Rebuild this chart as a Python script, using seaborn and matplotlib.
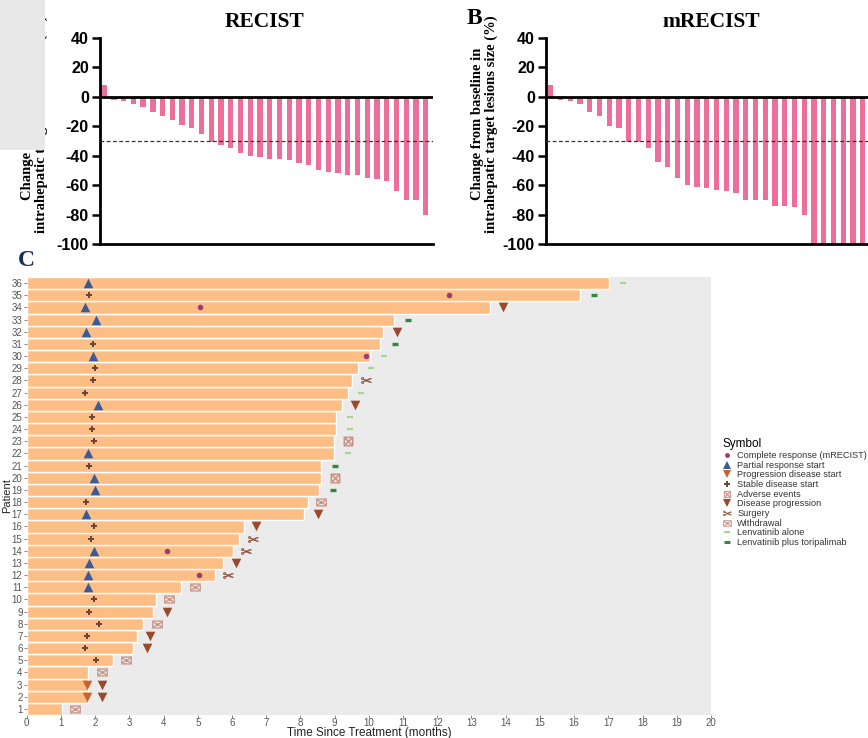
import numpy as np
import pandas as pd
import matplotlib
matplotlib.use("Agg")
import matplotlib.pyplot as plt
from matplotlib.lines import Line2D
from matplotlib.patches import Rectangle
import seaborn as sns

SERIF = ["Liberation Serif", "DejaVu Serif"]
SANS = ["Liberation Sans", "DejaVu Sans"]
plt.rcParams["font.family"] = SANS

# ---------------- data ----------------
recist = [8, -2, -3, -5, -7, -10, -13, -16, -19, -21, -25, -31, -33, -35, -38, -40, -41,
          -42, -42, -43, -45, -46, -50, -51, -52, -53, -53, -55, -56, -57, -64, -70, -70, -80]
mrecist = [8, -2, -3, -5, -10, -13, -20, -21, -31, -31, -35, -44, -48, -55, -60, -61, -62,
           -63, -64, -65, -70, -70, -70, -74, -74, -75, -80, -100, -100, -100, -100, -100, -100, -100]
y_ticks_ab = [40, 20, 0, -20, -40, -60, -80, -100]

patients = list(range(1, 37))
duration = [1.02, 1.80, 1.80, 1.80, 2.52, 3.10, 3.22, 3.41, 3.69, 3.77, 4.51, 5.51, 5.73, 6.02,
            6.21, 6.34, 8.11, 8.21, 8.53, 8.60, 8.60, 8.99, 8.99, 9.05, 9.05, 9.22, 9.38, 9.51,
            9.68, 10.04, 10.34, 10.41, 10.73, 13.53, 16.16, 17.02]

cr_pat = [12, 14, 30, 34, 35]
cr_t = [5.03, 4.10, 9.92, 5.07, 12.33]
pr_pat = [11, 12, 13, 14, 17, 19, 20, 22, 26, 30, 32, 33, 34, 36]
pr_t = [1.80, 1.80, 1.83, 1.98, 1.73, 2.01, 1.98, 1.80, 2.07, 1.94, 1.73, 2.04, 1.71, 1.80]
pds_pat = [2, 3]
pds_t = [1.77, 1.77]
sd_pat = [5, 6, 7, 8, 9, 10, 15, 16, 18, 21, 23, 24, 25, 27, 28, 29, 31, 35]
sd_t = [2.03, 1.71, 1.77, 2.12, 1.81, 1.98, 1.88, 1.98, 1.73, 1.83, 1.98, 1.91, 1.91, 1.71,
        1.93, 2.01, 1.94, 1.81]
ae_pat = [20, 23]
ae_t = [9.01, 9.40]
dp_pat = [2, 3, 6, 7, 9, 13, 16, 17, 26, 32, 34]
dp_t = [2.21, 2.21, 3.51, 3.61, 4.10, 6.12, 6.71, 8.50, 9.60, 10.82, 13.91]
surg_pat = [12, 14, 15, 28]
surg_t = [5.89, 6.41, 6.60, 9.92]
wd_pat = [1, 4, 5, 8, 10, 11, 18]
wd_t = [1.41, 2.21, 2.90, 3.81, 4.17, 4.92, 8.61]
la_pat = [22, 24, 25, 27, 29, 30, 36]
la_t = [9.40, 9.44, 9.44, 9.77, 10.07, 10.45, 17.44]
lt_pat = [19, 21, 31, 33, 35]
lt_t = [8.94, 9.01, 10.76, 11.13, 16.57]

legend_labels = ["Complete response (mRECIST)", "Partial response start",
                 "Progression disease start", "Stable disease start", "Adverse events",
                 "Disease progression", "Surgery", "Withdrawal", "Lenvatinib alone",
                 "Lenvatinib plus toripalimab"]

# ---------------- figure ----------------
W, H = 868, 738
fig = plt.figure(figsize=(W / 100, H / 100), dpi=100)
fig.patch.set_facecolor("white")

PINK = "#EC6E99"


def fx(px):
    return px / W


def fy(py):
    return 1 - py / H


def waterfall(ax, vals, xlo, xhi):
    df = pd.DataFrame({"idx": list(range(len(vals))), "val": vals})
    sns.barplot(data=df, x="idx", y="val", color=PINK, saturation=1, width=0.55,
                errorbar=None, ax=ax, linewidth=0)
    ax.set_xlim(xlo, xhi)
    ax.set_ylim(-100, 40)
    ax.axhline(0, color="black", lw=2, zorder=5)
    ax.axhline(-30, color="#333333", lw=0.9, ls=(0, (3, 2)), zorder=4)
    for s in ["top", "right"]:
        ax.spines[s].set_visible(False)
    for s in ["left", "bottom"]:
        ax.spines[s].set_linewidth(2)
        ax.spines[s].set_color("black")
    ax.set_xticks([])
    ax.set_yticks(y_ticks_ab)
    ax.set_yticklabels([str(v) for v in y_ticks_ab], fontfamily=SANS, fontweight="bold",
                       fontsize=11.5)
    ax.tick_params(axis="y", length=6, width=1.8, color="black", pad=2)
    ax.set_xlabel("")
    ax.set_ylabel("")
    ax.set_facecolor("white")


axA = fig.add_axes([fx(100), fy(244), fx(333), 206 / H])
waterfall(axA, recist, -0.42, 33.75)
axB = fig.add_axes([fx(546), fy(244), fx(333), 206 / H])
waterfall(axB, mrecist, -0.48, 33.67)

# y labels of A / B
for x1, x2 in [(27, 41), (477, 491)]:
    fig.text(fx(x1), fy(124), "Change from baseline in", rotation=90, ha="center", va="center",
             fontfamily=SERIF, fontweight="bold", fontsize=10.5)
    fig.text(fx(x2), fy(124), "intrahepatic target lesions size (%)", rotation=90, ha="center",
             va="center", fontfamily=SERIF, fontweight="bold", fontsize=10.5)

fig.text(fx(265), fy(22), "RECIST", ha="center", va="center", fontfamily=SERIF,
         fontweight="bold", fontsize=15.5)
fig.text(fx(711), fy(22), "mRECIST", ha="center", va="center", fontfamily=SERIF,
         fontweight="bold", fontsize=15.5)
fig.text(fx(474), fy(19), "B", ha="center", va="center", fontfamily=SERIF,
         fontweight="bold", fontsize=17)

# grey box covering top left
fig.patches.append(Rectangle((0, fy(150)), fx(45), 150 / H, transform=fig.transFigure,
                             facecolor="#E8E8E8", edgecolor="none", zorder=10))

# ---------------- panel C ----------------
axC = fig.add_axes([fx(26.7), fy(715), fx(711 - 26.7), (715 - 277) / H])
axC.set_facecolor("#EBEBEB")
dfC = pd.DataFrame({"patient": patients, "duration": duration})
sns.barplot(data=dfC, x="duration", y="patient", orient="h", native_scale=True,
            color="#FDBE86", saturation=1, width=1.0, errorbar=None, ax=axC,
            edgecolor="white", linewidth=1.0)
axC.set_xlim(0, 20)
axC.set_ylim(0.5, 36.5)

c_cr = "#A33A78"
c_pr = "#3B5A9A"
c_pds = "#C4652B"
c_sd = "#6B4535"
c_ae = "#C98F80"
c_dp = "#9A4A2C"
c_surg = "#8E4E3E"
c_wd = "#C98F80"
c_la = "#A6D88F"
c_lt = "#2F8A3C"

sns.scatterplot(x=cr_t, y=cr_pat, ax=axC, color=c_cr, marker="o", s=16, linewidth=0, zorder=6)
sns.scatterplot(x=pr_t, y=pr_pat, ax=axC, color=c_pr, marker="^", s=48, linewidth=0, zorder=6)
sns.scatterplot(x=pds_t, y=pds_pat, ax=axC, color=c_pds, marker="v", s=48, linewidth=0, zorder=6)
sns.scatterplot(x=sd_t, y=sd_pat, ax=axC, color=c_sd, marker="P", s=18, linewidth=0, zorder=6)
sns.scatterplot(x=dp_t, y=dp_pat, ax=axC, color=c_dp, marker="v", s=48, linewidth=0, zorder=6)
axC.scatter(ae_t, ae_pat, marker="$\u22A0$", s=45, color=c_ae, linewidths=0.3, zorder=6)
axC.scatter(surg_t, surg_pat, marker="$\u2702$", s=55, color=c_surg, linewidths=0.3, zorder=6)
axC.scatter(wd_t, wd_pat, marker="$\u2709$", s=55, color=c_wd, linewidths=0.3, zorder=6)
axC.scatter(la_t, la_pat, marker="_", s=22, color=c_la, linewidths=1.6, zorder=6)
axC.scatter(lt_t, lt_pat, marker="_", s=22, color=c_lt, linewidths=2.4, zorder=6)

axC.set_xticks(range(0, 21))
axC.set_yticks(patients)
axC.set_xticklabels([str(i) for i in range(0, 21)], fontfamily=SANS, fontsize=7, color="#555555")
axC.set_yticklabels([str(p) for p in patients], fontfamily=SANS, fontsize=7, color="#555555")
axC.tick_params(length=2, width=0.6, color="#777777", pad=1)
axC.tick_params(axis="x", pad=0.5)
for s in axC.spines.values():
    s.set_visible(False)
axC.set_xlabel("Time Since Treatment (months)", fontfamily=SANS, fontsize=8.5, color="#222222")
axC.set_ylabel("Patient", fontfamily=SANS, fontsize=8, color="#222222")
axC.xaxis.set_label_coords(0.5, -18 / 438, transform=axC.transAxes)
axC.yaxis.set_label_coords(-20 / 684.3, 0.5, transform=axC.transAxes)
axC.xaxis.label.set_va("center")
axC.yaxis.label.set_va("center")
axC.grid(False)

fig.text(fx(26), fy(261), "C", ha="center", va="center", fontfamily=SERIF, fontweight="bold",
         fontsize=17, color="#1C2B5C")

# legend
handles = [
    Line2D([], [], ls="none", marker="o", color=c_cr, markersize=3.5, mew=0),
    Line2D([], [], ls="none", marker="^", color=c_pr, markersize=5.5, mew=0),
    Line2D([], [], ls="none", marker="v", color=c_pds, markersize=5.5, mew=0),
    Line2D([], [], ls="none", marker="P", color=c_sd, markersize=4, mew=0),
    Line2D([], [], ls="none", marker="$\u22A0$", color=c_ae, markersize=5, mew=0.2),
    Line2D([], [], ls="none", marker="v", color=c_dp, markersize=5.5, mew=0),
    Line2D([], [], ls="none", marker="$\u2702$", color=c_surg, markersize=6, mew=0.2),
    Line2D([], [], ls="none", marker="$\u2709$", color=c_wd, markersize=6, mew=0.2),
    Line2D([], [], ls="none", marker="_", color=c_la, markersize=5, mew=1.5),
    Line2D([], [], ls="none", marker="_", color=c_lt, markersize=5, mew=2.2),
]
leg = fig.legend(handles, legend_labels, loc="upper left", bbox_to_anchor=(fx(716), fy(432)),
                 frameon=False, title="Symbol", prop={"family": SANS, "size": 6.6},
                 handlelength=1.0, handleheight=0.5, handletextpad=0.6, labelspacing=0.07,
                 borderpad=0.2, alignment="left")
leg.get_title().set_fontfamily(SANS)
leg.get_title().set_fontsize(8.5)
for t in leg.get_texts():
    t.set_color("#333333")

fig.savefig("out.png", dpi=100, facecolor="white")
